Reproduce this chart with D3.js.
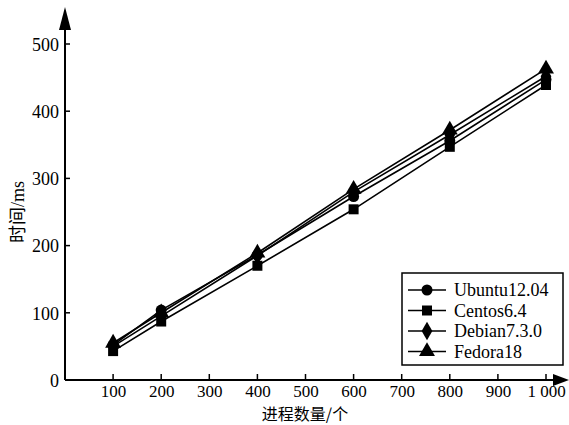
<!DOCTYPE html>
<html><head><meta charset="utf-8">
<script src="https://cdn.jsdelivr.net/npm/d3@7/dist/d3.min.js"></script>
<style>
html,body{margin:0;padding:0;background:#fff;}
svg{display:block;}
text{font-family:"Liberation Serif","Times New Roman",serif;fill:#000;}
.cjk{font-family:"Noto Sans CJK SC","Noto Sans",sans-serif;}
</style></head>
<body><svg id="c" width="569" height="425"></svg>
<script>
const xValues = [100, 200, 400, 600, 800, 1000];
const xTicks = [100, 200, 300, 400, 500, 600, 700, 800, 900, 1000];
const xTickLabels = ["100","200","300","400","500","600","700","800","900","1 000"];
const yTicks = [0, 100, 200, 300, 400, 500];
const seriesNames = ["Ubuntu12.04", "Centos6.4", "Debian7.3.0", "Fedora18"];
const ubuntu = [52, 104, 186, 273, 356, 447];
const centos = [43, 87, 170, 254, 347, 439];
const debian = [50, 95, 185, 280, 365, 452];
const fedora = [55, 100, 189, 284, 372, 463];
const seriesValues = [ubuntu, centos, debian, fedora];
const symbols = [d3.symbolCircle, d3.symbolSquare, d3.symbolDiamond, d3.symbolTriangle];
const symbolSizes = [95, 100, 100, 110];

const svg = d3.select("#c");
const x = d3.scaleLinear().domain([0, 1000]).range([65, 546]);
const y = d3.scaleLinear().domain([0, 500]).range([380, 44]);
const x0 = x(0), y0 = y(0);

// axes lines
svg.append("line").attr("x1", x0).attr("x2", 556).attr("y1", y0).attr("y2", y0)
  .attr("stroke", "#000").attr("stroke-width", 2);
svg.append("line").attr("x1", x0).attr("x2", x0).attr("y1", y0).attr("y2", 28)
  .attr("stroke", "#000").attr("stroke-width", 2);
// arrows
svg.append("path").attr("d", `M${x0-6},30 L${x0},7 L${x0+6},30 Z`).attr("fill", "#000");
svg.append("path").attr("d", `M553,${y0-6} L569,${y0} L553,${y0+6} Z`).attr("fill", "#000");

// x ticks
const xAxis = d3.axisBottom(x).tickValues(xTicks).tickSize(0)
  .tickFormat((d, i) => xTickLabels[i]);
const gx = svg.append("g").attr("transform", `translate(0,${y0})`).call(xAxis);
gx.select(".domain").remove();
gx.selectAll("text").attr("font-size", 17).attr("dy", "0.85em")
  .style("font-family", '"Liberation Serif",serif');
svg.selectAll(".xt").data(xTicks).join("line")
  .attr("x1", d => x(d)).attr("x2", d => x(d)).attr("y1", y0).attr("y2", y0 - 6)
  .attr("stroke", "#000").attr("stroke-width", 1.5);

// y ticks
const yAxis = d3.axisLeft(y).tickValues(yTicks).tickSize(0).tickFormat(d3.format("d"));
const gy = svg.append("g").attr("transform", `translate(${x0 - 3},0)`).call(yAxis);
gy.select(".domain").remove();
gy.selectAll("text").attr("font-size", 18).attr("dy", "0.35em")
  .style("font-family", '"Liberation Serif",serif');
svg.selectAll(".yt").data(yTicks.slice(1)).join("line")
  .attr("x1", x0).attr("x2", x0 + 5).attr("y1", d => y(d)).attr("y2", d => y(d))
  .attr("stroke", "#000").attr("stroke-width", 1.5);

// axis titles
svg.append("text").attr("class", "cjk").attr("x", 305).attr("y", 420)
  .attr("text-anchor", "middle").attr("font-size", 16).text("进程数量/个");
svg.append("text").attr("transform", "translate(24,212) rotate(-90)")
  .attr("text-anchor", "middle").attr("font-size", 18)
  .html('<tspan class="cjk">时间</tspan><tspan>/ms</tspan>');

// lines
const line = d3.line().x((d, i) => x(xValues[i])).y(d => y(d));
seriesValues.forEach((vals, si) => {
  svg.append("path").datum(vals).attr("d", line).attr("fill", "none")
    .attr("stroke", "#000").attr("stroke-width", 1.6);
});
seriesValues.forEach((vals, si) => {
  svg.selectAll(null).data(vals).join("path")
    .attr("transform", (d, i) => `translate(${x(xValues[i])},${y(d)})`)
    .attr("d", d3.symbol().type(symbols[si]).size(symbolSizes[si]))
    .attr("fill", "#000");
});

// legend
const lg = svg.append("g");
lg.append("rect").attr("x", 402).attr("y", 273).attr("width", 161).attr("height", 92)
  .attr("fill", "#fff").attr("stroke", "#000").attr("stroke-width", 1.5);
seriesNames.forEach((name, i) => {
  const cy = 290 + i * 20.5;
  lg.append("line").attr("x1", 408).attr("x2", 446).attr("y1", cy).attr("y2", cy)
    .attr("stroke", "#000").attr("stroke-width", 1.6);
  lg.append("path").attr("transform", `translate(427,${cy})`)
    .attr("d", d3.symbol().type(symbols[i]).size(symbolSizes[i])).attr("fill", "#000");
  lg.append("text").attr("x", 454).attr("y", cy).attr("dy", "0.35em")
    .attr("font-size", 18).text(name);
});
</script></body></html>
